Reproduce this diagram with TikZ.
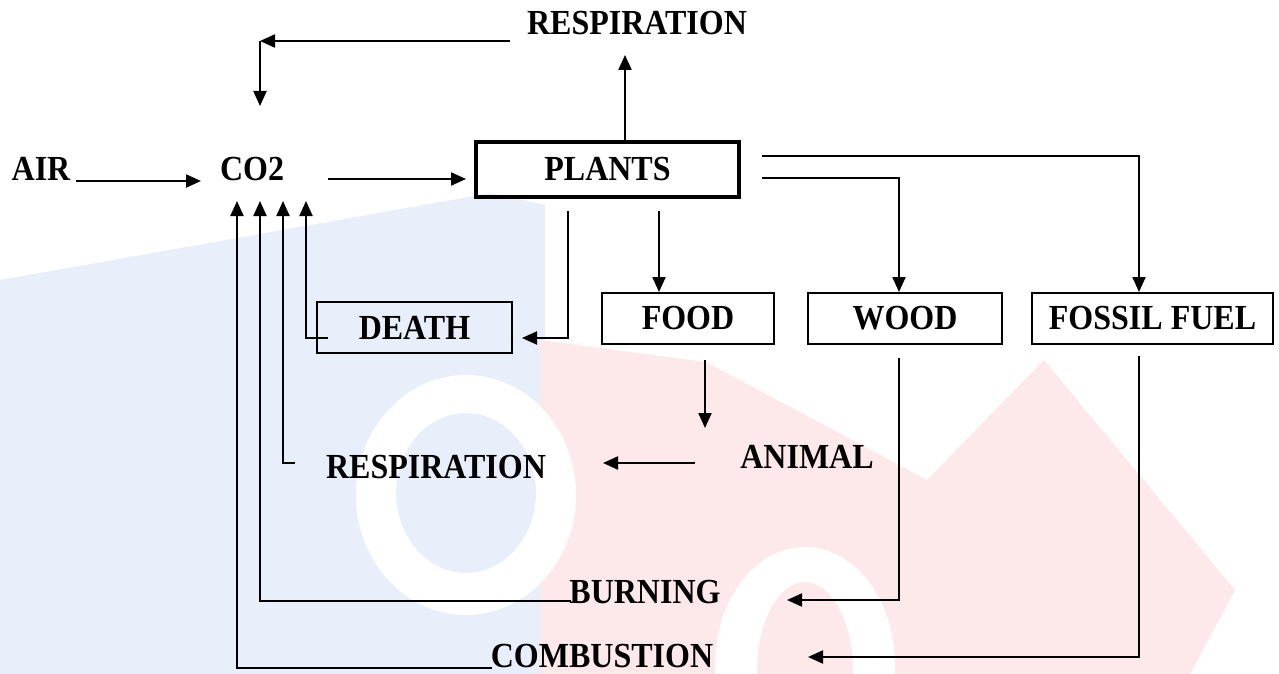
\documentclass[tikz,border=0pt]{standalone}
\usepackage{fontspec}
\setmainfont{Liberation Serif}
\usetikzlibrary{arrows.meta}
\definecolor{wmblue}{HTML}{E8EFFA}
\definecolor{wmpink}{HTML}{FDE9E9}
\newcommand{\tallt}[1]{\scalebox{1}[1.1]{#1}}
\begin{document}
\begin{tikzpicture}[x=1pt,y=-1pt,
  font=\fontsize{32}{38}\selectfont\bfseries,
  lbl/.style={inner sep=0pt},
  box/.style={draw, line width=1.8pt, inner sep=0pt, minimum height=51pt},
  arr/.style={line width=2.1pt, -{Triangle[length=15pt,width=13pt]}}]
\useasboundingbox (0,0) rectangle (1279,674);
% watermark background
\fill[wmblue] (0,280) -- (491,193) -- (545,205) -- (545,674) -- (0,674) -- cycle;
\fill[wmpink] (540,340) -- (706,362) -- (927,480) -- (1044,360) -- (1235,590) -- (1190,674) -- (540,674) -- cycle;
\fill[white, even odd rule] (466,495) ellipse [x radius=110, y radius=120] (466,493) ellipse [x radius=70, y radius=80];
\fill[white, even odd rule] (805,665) ellipse [x radius=90, y radius=118] (805,670) ellipse [x radius=48, y radius=88];
% nodes
\node[lbl] (resptop) at (637,23) {\tallt{RESPIRATION}};
\node[lbl] (air) at (41,169) {\tallt{AIR}};
\node[lbl] (co2) at (252,169) {\tallt{CO2}};
\node[box, line width=3.8pt, minimum width=263pt, minimum height=55pt] (plants) at (607.5,169.5) {\tallt{PLANTS}};
\node[box, minimum width=172pt] (food) at (688,318.5) {\tallt{FOOD}};
\node[box, minimum width=194pt] (wood) at (905,318.5) {\tallt{WOOD}};
\node[box, minimum width=241pt] (fossil) at (1152.5,318.5) {\tallt{FOSSIL FUEL}};
\node[box, minimum width=195pt, line width=1.5pt] (death) at (414.5,327.5) {\tallt{DEATH}};
\node[lbl] (animal) at (807,457) {\tallt{ANIMAL}};
\node[lbl] (resplow) at (436,467) {\tallt{RESPIRATION}};
\node[lbl] (burning) at (645,592) {\tallt{BURNING}};
\node[lbl] (combustion) at (602,656) {\tallt{COMBUSTION}};
% connector points
\coordinate (r1a) at (510,41);
\coordinate (r1b) at (260,41);
\coordinate (r1c) at (260,106);
\coordinate (plup) at (625,143);
\coordinate (respin) at (625,55);
\coordinate (airout) at (76,181);
\coordinate (co2in) at (201,181);
\coordinate (co2out) at (328,179);
\coordinate (plin) at (466,179);
\coordinate (plf1) at (762,156);
\coordinate (fosin) at (1139,292);
\coordinate (plw1) at (762,178);
\coordinate (woodin) at (899,292);
\coordinate (plfd) at (659,211);
\coordinate (foodin) at (659,292);
\coordinate (pld) at (568,211);
\coordinate (deathin) at (522,338);
\coordinate (foodout) at (705,360);
\coordinate (animin) at (705,428);
\coordinate (animout) at (695,463);
\coordinate (respin2) at (603,463);
\coordinate (woodout) at (899,358);
\coordinate (burnin) at (787,600);
\coordinate (fosout) at (1139,356);
\coordinate (combin) at (808,657);
\coordinate (deathout) at (328,338);
\coordinate (co2a) at (306,201);
\coordinate (respout) at (295,463);
\coordinate (co2b) at (283,201);
\coordinate (burnout) at (571,601);
\coordinate (co2c) at (260,201);
\coordinate (combout) at (492,668);
\coordinate (co2d) at (237,201);
% connectors
\draw[arr] (r1a) -- (r1b);
\draw[arr] (r1b) -- (r1c);
\draw[arr] (plup) -- (respin);
\draw[arr] (airout) -- (co2in);
\draw[arr] (co2out) -- (plin);
\draw[arr] (plf1) -| (fosin);
\draw[arr] (plw1) -| (woodin);
\draw[arr] (plfd) -- (foodin);
\draw[arr] (pld) |- (deathin);
\draw[arr] (foodout) -- (animin);
\draw[arr] (animout) -- (respin2);
\draw[arr] (woodout) |- (burnin);
\draw[arr] (fosout) |- (combin);
\draw[arr] (deathout) -| (co2a);
\draw[arr] (respout) -| (co2b);
\draw[arr] (burnout) -| (co2c);
\draw[arr] (combout) -| (co2d);
\end{tikzpicture}
\end{document}
